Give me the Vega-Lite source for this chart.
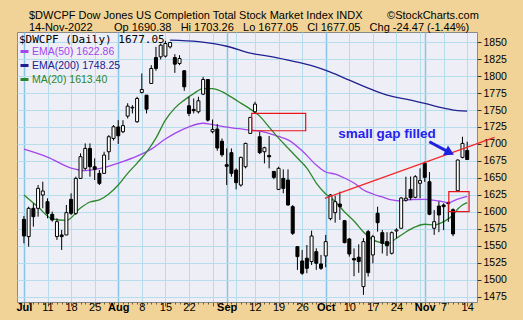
{
  "$schema": "https://vega.github.io/schema/vega-lite/v6.json",
  "width": 460,
  "height": 270,
  "autosize": {"type": "none"},
  "padding": {"left": 17, "top": 32, "right": 46, "bottom": 18},
  "background": "#F1D397",
  "title": {
    "text": [
      "$DWCPF Dow Jones US Completion Total Stock Market Index INDX\u00a0\u00a0\u00a0\u00a0\u00a0\u00a0\u00a0\u00a0©StockCharts.com",
      "14-Nov-2022\u00a0\u00a0\u00a0\u00a0\u00a0\u00a0 Op 1690.38\u00a0\u00a0 Hi 1703.26\u00a0\u00a0 Lo 1677.05\u00a0\u00a0 Cl 1677.05\u00a0\u00a0 Chg -24.47 (-1.44%)"
    ],
    "anchor": "start",
    "frame": "group",
    "align": "left",
    "dx": 12,
    "offset": -1,
    "lineHeight": 12,
    "font": "Liberation Sans",
    "fontSize": 11,
    "fontWeight": "normal",
    "color": "black"
  },
  "datasets": {
    "candles": [
      {"i":0,"o":1588.9,"h":1593.8,"l":1553.5,"c":1564.3},
      {"i":1,"o":1563.4,"h":1607.5,"l":1548.6,"c":1605.1},
      {"i":2,"o":1605.1,"h":1612.4,"l":1578.1,"c":1592.8},
      {"i":3,"o":1605.1,"h":1639.4,"l":1592.8,"c":1634.5},
      {"i":4,"o":1624.7,"h":1644.3,"l":1605.1,"c":1630.6},
      {"i":5,"o":1614.9,"h":1619.8,"l":1590.4,"c":1597.7},
      {"i":6,"o":1596.2,"h":1600.2,"l":1585.4,"c":1587.9},
      {"i":7,"o":1563.4,"h":1590.4,"l":1558.5,"c":1585.4},
      {"i":8,"o":1565.8,"h":1573.2,"l":1543.7,"c":1563.4},
      {"i":9,"o":1565.8,"h":1610,"l":1565.8,"c":1598.7},
      {"i":10,"o":1618.3,"h":1627.2,"l":1595.3,"c":1597.7},
      {"i":11,"o":1597.7,"h":1651.7,"l":1595.3,"c":1649.2},
      {"i":12,"o":1649.2,"h":1686.1,"l":1649.2,"c":1681.2},
      {"i":13,"o":1664,"h":1700.8,"l":1661.5,"c":1693.4},
      {"i":14,"o":1693.4,"h":1700.8,"l":1651.7,"c":1666.4},
      {"i":15,"o":1666.4,"h":1678.7,"l":1646.8,"c":1662.5},
      {"i":16,"o":1656.6,"h":1661.5,"l":1639.4,"c":1641.9},
      {"i":17,"o":1656.6,"h":1688.5,"l":1656.6,"c":1683.6},
      {"i":18,"o":1688.5,"h":1713,"l":1676.3,"c":1710.6},
      {"i":19,"o":1708.1,"h":1727.8,"l":1705,"c":1725.3},
      {"i":20,"o":1725,"h":1735,"l":1700,"c":1712},
      {"i":21,"o":1718,"h":1735,"l":1716,"c":1727},
      {"i":22,"o":1741,"h":1760,"l":1737.6,"c":1755.7},
      {"i":23,"o":1753,"h":1757.2,"l":1745,"c":1754},
      {"i":24,"o":1732.7,"h":1769.5,"l":1731.2,"c":1767},
      {"i":25,"o":1775.9,"h":1803.9,"l":1774.4,"c":1780.3},
      {"i":26,"o":1771.9,"h":1772,"l":1745,"c":1751.3},
      {"i":27,"o":1789.1,"h":1816.1,"l":1789.1,"c":1811.2},
      {"i":28,"o":1827.4,"h":1843.1,"l":1807.8,"c":1811.2},
      {"i":29,"o":1828.4,"h":1848,"l":1824.5,"c":1845.6},
      {"i":30,"o":1829.4,"h":1852,"l":1827.4,"c":1848},
      {"i":31,"o":1843.1,"h":1850.5,"l":1840.7,"c":1849.5},
      {"i":32,"o":1827.4,"h":1832.3,"l":1804.8,"c":1817.6},
      {"i":33,"o":1818.6,"h":1830.8,"l":1816.1,"c":1825.9},
      {"i":34,"o":1807.8,"h":1808.8,"l":1778.3,"c":1784.2},
      {"i":35,"o":1756.2,"h":1769.5,"l":1741,"c":1745},
      {"i":36,"o":1750.9,"h":1767,"l":1745,"c":1749},
      {"i":37,"o":1747.4,"h":1769.5,"l":1745,"c":1763.6},
      {"i":38,"o":1773.4,"h":1798.9,"l":1772,"c":1795},
      {"i":39,"o":1795,"h":1795.5,"l":1733,"c":1735.1},
      {"i":40,"o":1718,"h":1736,"l":1715.6,"c":1721.4},
      {"i":41,"o":1722,"h":1729.3,"l":1690,"c":1694},
      {"i":42,"o":1704,"h":1708,"l":1681,"c":1684},
      {"i":43,"o":1669.4,"h":1693.4,"l":1639.4,"c":1667},
      {"i":44,"o":1687.1,"h":1693.4,"l":1651.7,"c":1656.6},
      {"i":45,"o":1661.5,"h":1664,"l":1633,"c":1642.9},
      {"i":46,"o":1639.4,"h":1681.2,"l":1637,"c":1680.2},
      {"i":47,"o":1666.4,"h":1701.8,"l":1664,"c":1700.8},
      {"i":48,"o":1715.5,"h":1739.5,"l":1715,"c":1739.1},
      {"i":49,"o":1747.4,"h":1762.1,"l":1745,"c":1758.7},
      {"i":50,"o":1710.6,"h":1718,"l":1685.1,"c":1687.1},
      {"i":51,"o":1688.5,"h":1695.9,"l":1671.3,"c":1694.4},
      {"i":52,"o":1683,"h":1711.6,"l":1664,"c":1681},
      {"i":53,"o":1659.5,"h":1660,"l":1648,"c":1650.7},
      {"i":54,"o":1633,"h":1666.4,"l":1632,"c":1664},
      {"i":55,"o":1649.2,"h":1662.5,"l":1627.2,"c":1634.5},
      {"i":56,"o":1646.8,"h":1662.5,"l":1609,"c":1610},
      {"i":57,"o":1607.5,"h":1610,"l":1565.8,"c":1568.3},
      {"i":58,"o":1548.6,"h":1548.6,"l":1514.3,"c":1533.9},
      {"i":59,"o":1527.5,"h":1543.7,"l":1506.9,"c":1509.4},
      {"i":60,"o":1531.5,"h":1551,"l":1509.4,"c":1516.7},
      {"i":61,"o":1526.6,"h":1572.2,"l":1521.6,"c":1564.3},
      {"i":62,"o":1541.2,"h":1546.2,"l":1514.3,"c":1524.1},
      {"i":63,"o":1523.1,"h":1536.4,"l":1514.3,"c":1516.7},
      {"i":64,"o":1534.9,"h":1565.8,"l":1518.2,"c":1556},
      {"i":65,"o":1589.9,"h":1626.2,"l":1587.4,"c":1624.7},
      {"i":66,"o":1598.7,"h":1623.7,"l":1584,"c":1614.9},
      {"i":67,"o":1611.4,"h":1629.6,"l":1588,"c":1607.5},
      {"i":68,"o":1586.9,"h":1587.5,"l":1553.5,"c":1554.5},
      {"i":69,"o":1559.9,"h":1561.4,"l":1533.9,"c":1537.8},
      {"i":70,"o":1531,"h":1546,"l":1505,"c":1529},
      {"i":71,"o":1533,"h":1552,"l":1510,"c":1526.6},
      {"i":72,"o":1489.7,"h":1561,"l":1477.5,"c":1556},
      {"i":73,"o":1570.7,"h":1573.2,"l":1504.5,"c":1510.3},
      {"i":74,"o":1536.4,"h":1566,"l":1524,"c":1563.3},
      {"i":75,"o":1597.8,"h":1607.5,"l":1570.7,"c":1583.9},
      {"i":76,"o":1569.2,"h":1573.2,"l":1538.5,"c":1553.6},
      {"i":77,"o":1556,"h":1570,"l":1535,"c":1550},
      {"i":78,"o":1538.8,"h":1571,"l":1537,"c":1569.2},
      {"i":79,"o":1571.7,"h":1575.7,"l":1560.9,"c":1573.2},
      {"i":80,"o":1575.7,"h":1621.8,"l":1575.7,"c":1620.3},
      {"i":81,"o":1617,"h":1651.7,"l":1615,"c":1620},
      {"i":82,"o":1633,"h":1652,"l":1617,"c":1620.8},
      {"i":83,"o":1621.3,"h":1654,"l":1620,"c":1651.7},
      {"i":84,"o":1642,"h":1664,"l":1620,"c":1646},
      {"i":85,"o":1671.4,"h":1674,"l":1644,"c":1650.7},
      {"i":86,"o":1644.3,"h":1658.5,"l":1595,"c":1596.3},
      {"i":87,"o":1575.7,"h":1602.6,"l":1566,"c":1585.4},
      {"i":88,"o":1608.5,"h":1615,"l":1570,"c":1595.3},
      {"i":89,"o":1610,"h":1612.4,"l":1573,"c":1607.5},
      {"i":90,"o":1612,"h":1615,"l":1585,"c":1613},
      {"i":91,"o":1603,"h":1605,"l":1564,"c":1567.3},
      {"i":92,"o":1631,"h":1677,"l":1630,"c":1676.3},
      {"i":93,"o":1680.2,"h":1710.6,"l":1678.7,"c":1700.8},
      {"i":94,"o":1690.38,"h":1703.26,"l":1677.05,"c":1677.05}
    ],
    "lines": [
      {"s":"EMA(50) 1622.86","i":0,"v":1692.4},
      {"s":"EMA(50) 1622.86","i":5,"v":1680.7},
      {"s":"EMA(50) 1622.86","i":10,"v":1664.5},
      {"s":"EMA(50) 1622.86","i":13,"v":1660.8},
      {"s":"EMA(50) 1622.86","i":16,"v":1663.7},
      {"s":"EMA(50) 1622.86","i":20,"v":1671.8},
      {"s":"EMA(50) 1622.86","i":24,"v":1682},
      {"s":"EMA(50) 1622.86","i":27,"v":1692.4},
      {"s":"EMA(50) 1622.86","i":30,"v":1707.2},
      {"s":"EMA(50) 1622.86","i":32,"v":1715.6},
      {"s":"EMA(50) 1622.86","i":35,"v":1725.3},
      {"s":"EMA(50) 1622.86","i":38,"v":1730.5},
      {"s":"EMA(50) 1622.86","i":40,"v":1728.5},
      {"s":"EMA(50) 1622.86","i":43,"v":1724.8},
      {"s":"EMA(50) 1622.86","i":47,"v":1721.2},
      {"s":"EMA(50) 1622.86","i":51,"v":1717.5},
      {"s":"EMA(50) 1622.86","i":54,"v":1711},
      {"s":"EMA(50) 1622.86","i":56,"v":1706},
      {"s":"EMA(50) 1622.86","i":59,"v":1690},
      {"s":"EMA(50) 1622.86","i":62,"v":1668.9},
      {"s":"EMA(50) 1622.86","i":64,"v":1658.6},
      {"s":"EMA(50) 1622.86","i":66,"v":1655.6},
      {"s":"EMA(50) 1622.86","i":68,"v":1649.7},
      {"s":"EMA(50) 1622.86","i":70,"v":1642.4},
      {"s":"EMA(50) 1622.86","i":72,"v":1632.1},
      {"s":"EMA(50) 1622.86","i":74,"v":1626.2},
      {"s":"EMA(50) 1622.86","i":76,"v":1621.8},
      {"s":"EMA(50) 1622.86","i":78,"v":1617.4},
      {"s":"EMA(50) 1622.86","i":80,"v":1615.9},
      {"s":"EMA(50) 1622.86","i":82,"v":1618.1},
      {"s":"EMA(50) 1622.86","i":85,"v":1618.4},
      {"s":"EMA(50) 1622.86","i":88,"v":1615.9},
      {"s":"EMA(50) 1622.86","i":90,"v":1613.4},
      {"s":"EMA(50) 1622.86","i":92,"v":1618.8},
      {"s":"EMA(50) 1622.86","i":94,"v":1622.86},
      {"s":"EMA(200) 1748.25","i":31,"v":1853},
      {"s":"EMA(200) 1748.25","i":37,"v":1850.7},
      {"s":"EMA(200) 1748.25","i":43,"v":1844},
      {"s":"EMA(200) 1748.25","i":48,"v":1833.8},
      {"s":"EMA(200) 1748.25","i":53,"v":1828},
      {"s":"EMA(200) 1748.25","i":57,"v":1822},
      {"s":"EMA(200) 1748.25","i":61,"v":1815.4},
      {"s":"EMA(200) 1748.25","i":65,"v":1805.8},
      {"s":"EMA(200) 1748.25","i":69,"v":1794},
      {"s":"EMA(200) 1748.25","i":73,"v":1782.3},
      {"s":"EMA(200) 1748.25","i":77,"v":1772},
      {"s":"EMA(200) 1748.25","i":81,"v":1766},
      {"s":"EMA(200) 1748.25","i":85,"v":1759.7},
      {"s":"EMA(200) 1748.25","i":89,"v":1752.8},
      {"s":"EMA(200) 1748.25","i":92,"v":1749.1},
      {"s":"EMA(200) 1748.25","i":94,"v":1748.25},
      {"s":"MA(20) 1613.40","i":0,"v":1624.7},
      {"s":"MA(20) 1613.40","i":3,"v":1607},
      {"s":"MA(20) 1613.40","i":6,"v":1589.4},
      {"s":"MA(20) 1613.40","i":9,"v":1587.2},
      {"s":"MA(20) 1613.40","i":12,"v":1605.6},
      {"s":"MA(20) 1613.40","i":14,"v":1614.4},
      {"s":"MA(20) 1613.40","i":16,"v":1617.4},
      {"s":"MA(20) 1613.40","i":18,"v":1626.2},
      {"s":"MA(20) 1613.40","i":20,"v":1639.4},
      {"s":"MA(20) 1613.40","i":22,"v":1656.7},
      {"s":"MA(20) 1613.40","i":24,"v":1671.8},
      {"s":"MA(20) 1613.40","i":26,"v":1688},
      {"s":"MA(20) 1613.40","i":28,"v":1708.6},
      {"s":"MA(20) 1613.40","i":30,"v":1735.1},
      {"s":"MA(20) 1613.40","i":32,"v":1752.8},
      {"s":"MA(20) 1613.40","i":34,"v":1764.6},
      {"s":"MA(20) 1613.40","i":36,"v":1774.2},
      {"s":"MA(20) 1613.40","i":38,"v":1781.5},
      {"s":"MA(20) 1613.40","i":40,"v":1781.5},
      {"s":"MA(20) 1613.40","i":42,"v":1777.1},
      {"s":"MA(20) 1613.40","i":44,"v":1769},
      {"s":"MA(20) 1613.40","i":46,"v":1760.2},
      {"s":"MA(20) 1613.40","i":48,"v":1751.3},
      {"s":"MA(20) 1613.40","i":50,"v":1741},
      {"s":"MA(20) 1613.40","i":52,"v":1724.8},
      {"s":"MA(20) 1613.40","i":54,"v":1708.6},
      {"s":"MA(20) 1613.40","i":56,"v":1693.9},
      {"s":"MA(20) 1613.40","i":58,"v":1679.2},
      {"s":"MA(20) 1613.40","i":60,"v":1664.5},
      {"s":"MA(20) 1613.40","i":62,"v":1642.4},
      {"s":"MA(20) 1613.40","i":64,"v":1626.2},
      {"s":"MA(20) 1613.40","i":66,"v":1615.1},
      {"s":"MA(20) 1613.40","i":68,"v":1599.7},
      {"s":"MA(20) 1613.40","i":70,"v":1586.4},
      {"s":"MA(20) 1613.40","i":72,"v":1570.2},
      {"s":"MA(20) 1613.40","i":74,"v":1558.5},
      {"s":"MA(20) 1613.40","i":76,"v":1554},
      {"s":"MA(20) 1613.40","i":77,"v":1552.6},
      {"s":"MA(20) 1613.40","i":79,"v":1561},
      {"s":"MA(20) 1613.40","i":81,"v":1570.2},
      {"s":"MA(20) 1613.40","i":83,"v":1577.6},
      {"s":"MA(20) 1613.40","i":85,"v":1581.6},
      {"s":"MA(20) 1613.40","i":87,"v":1580.5},
      {"s":"MA(20) 1613.40","i":89,"v":1585.4},
      {"s":"MA(20) 1613.40","i":91,"v":1595.3},
      {"s":"MA(20) 1613.40","i":92,"v":1604.1},
      {"s":"MA(20) 1613.40","i":93,"v":1610},
      {"s":"MA(20) 1613.40","i":94,"v":1613.4}
    ],
    "boxes": [
      {"i":48.3,"i2":59.75,"v":1745,"v2":1719.4},
      {"i":90.1,"i2":94.4,"v":1629.6,"v2":1600.1}
    ],
    "trend": [
      {"i":63.8,"v":1619.8},
      {"i":99.8,"v":1709.7}
    ],
    "arrow": [
      {"i":85.97,"v":1703.2},
      {"i":89.8,"v":1689}
    ],
    "arrowhead": [
      {"i":90.3,"v":1687.4}
    ],
    "note": [
      {"i":77,"v":1714.5,"label":"small gap filled"}
    ]
  },
  "encoding": {
    "x": {
      "field": "i",
      "type": "quantitative",
      "scale": {"domain": [-0.41, 95.02], "nice": false, "zero": false},
      "axis": {
        "title": null,
        "values": [0,1,2,3,4,5,6,7,8,9,10,11,12,13,14,15,16,17,18,19,20,21,22,23,24,25,26,27,28,29,30,31,32,33,34,35,36,37,38,39,40,41,42,43,44,45,46,47,48,49,50,51,52,53,54,55,56,57,58,59,60,61,62,63,64,65,66,67,68,69,70,71,72,73,74,75,76,77,78,79,80,81,82,83,84,85,86,87,88,89,90,91,92,93,94],
        "labelExpr": "datum.value==0?'Jul':datum.value==5?'11':datum.value==10?'18':datum.value==15?'25':datum.value==20?'Aug':datum.value==25?'8':datum.value==30?'15':datum.value==35?'22':datum.value==43?'Sep':datum.value==49?'12':datum.value==54?'19':datum.value==59?'26':datum.value==64?'Oct':datum.value==69?'10':datum.value==74?'17':datum.value==79?'24':datum.value==85?'Nov':datum.value==89?'7':datum.value==94?'14':''",
        "labelOverlap": false,
        "labelFlush": false,
        "labelBound": false,
        "domain": false,
        "grid": true,
        "gridColor": {"condition": {"test": "indexof([0,20,43,64,85], datum.value) >= 0", "value": "#86C6E4"}, "value": "#B5DDEB"},
        "gridWidth": {"condition": {"test": "indexof([0,20,43,64,85], datum.value) >= 0", "value": 1.5}, "value": 1},
        "gridOpacity": {"condition": {"test": "indexof([0,5,10,15,20,25,30,35,40,43,45,49,54,59,64,69,74,79,84,85,89,94], datum.value) >= 0", "value": 1}, "value": 0},
        "tickSize": {"condition": {"test": "indexof([0,5,10,15,20,25,30,35,40,43,45,49,54,59,64,69,74,79,84,85,89,94], datum.value) >= 0", "value": 4}, "value": 2},
        "tickColor": "#6B5A38",
        "labelFont": "Liberation Sans",
        "labelFontSize": 11,
        "labelColor": "black",
        "labelPadding": -5,
        "labelFontWeight": {"condition": {"test": "indexof([0,20,43,64,85], datum.value) >= 0", "value": "bold"}, "value": "normal"}
      }
    }
  },
  "resolve": {"axis": {"y": "independent"}},
  "layer": [
    {
      "data": {"name": "lines"},
      "mark": {"type": "line", "strokeWidth": 1.3, "interpolate": "monotone"},
      "encoding": {
        "y": {
          "field": "v",
          "type": "quantitative",
          "scale": {"domain": [1467, 1865], "nice": false, "zero": false},
          "axis": {
            "title": null,
            "orient": "right",
            "values": [1475,1500,1525,1550,1575,1600,1625,1650,1675,1700,1725,1750,1775,1800,1825,1850],
            "format": "d",
            "labelOverlap": false,
            "labelBound": false,
            "labelFlush": false,
            "grid": true,
            "gridColor": "#B5DDEB",
            "domain": false,
            "tickSize": 4,
            "tickColor": "#333333",
            "labelFont": "Liberation Sans",
            "labelFontSize": 10.5,
            "labelColor": "black",
            "labelPadding": 2
          }
        },
        "color": {
          "field": "s",
          "type": "nominal",
          "scale": {
            "domain": ["EMA(50) 1622.86", "EMA(200) 1748.25", "MA(20) 1613.40"],
            "range": ["#A346EC", "#202090", "#2B872B"]
          },
          "legend": {
            "title": "$DWCPF (Daily) 1677.05",
            "orient": "top-left",
            "offset": 2,
            "padding": 0,
            "titleFont": "DejaVu Sans Mono",
            "titleFontSize": 11,
            "titleFontWeight": "normal",
            "titleColor": "black",
            "titlePadding": 1,
            "labelFont": "Liberation Sans",
            "labelFontSize": 10.5,
            "labelOffset": 2,
            "symbolType": "stroke",
            "symbolStrokeWidth": 3,
            "symbolSize": 64,
            "rowPadding": 1,
            "encode": {"labels": {"update": {"fill": {"scale": "color", "field": "value"}}}}
          }
        }
      }
    },
    {
      "data": {"name": "candles"},
      "mark": {"type": "rule", "color": "black", "strokeWidth": 1},
      "encoding": {
        "y": {"field": "l", "type": "quantitative", "axis": null},
        "y2": {"field": "h"}
      }
    },
    {
      "data": {"name": "candles"},
      "mark": {"type": "bar", "orient": "vertical", "size": 3, "stroke": "black", "strokeWidth": 1},
      "encoding": {
        "y": {"field": "o", "type": "quantitative", "axis": null},
        "y2": {"field": "c"},
        "fill": {"condition": {"test": "datum.c < datum.o", "value": "black"}, "value": "white"}
      }
    },
    {
      "data": {"name": "boxes"},
      "mark": {"type": "rect", "fillOpacity": 0, "stroke": "#E8141A", "strokeWidth": 1.2},
      "encoding": {
        "x2": {"field": "i2"},
        "y": {"field": "v", "type": "quantitative", "axis": null},
        "y2": {"field": "v2"}
      }
    },
    {
      "data": {"name": "trend"},
      "mark": {"type": "line", "color": "#F2282A", "strokeWidth": 1.2, "clip": false},
      "encoding": {
        "y": {"field": "v", "type": "quantitative", "axis": null}
      }
    },
    {
      "data": {"name": "arrow"},
      "mark": {"type": "line", "color": "#1E22E0", "strokeWidth": 3},
      "encoding": {
        "y": {"field": "v", "type": "quantitative", "axis": null}
      }
    },
    {
      "data": {"name": "arrowhead"},
      "mark": {"type": "point", "shape": "triangle-right", "angle": 27, "size": 120, "filled": true, "color": "#1E22E0", "opacity": 1},
      "encoding": {
        "y": {"field": "v", "type": "quantitative", "axis": null}
      }
    },
    {
      "data": {"name": "note"},
      "mark": {"type": "text", "font": "Liberation Sans", "fontSize": 13.5, "fontWeight": "bold", "color": "#2424EC", "align": "center", "baseline": "middle"},
      "encoding": {
        "y": {"field": "v", "type": "quantitative", "axis": null},
        "text": {"field": "label"}
      }
    }
  ],
  "config": {
    "view": {"fill": "#EEEEF6", "stroke": "#8A8A8A", "strokeWidth": 1},
    "font": "Liberation Sans",
    "axis": {"labelOverlap": false}
  }
}
